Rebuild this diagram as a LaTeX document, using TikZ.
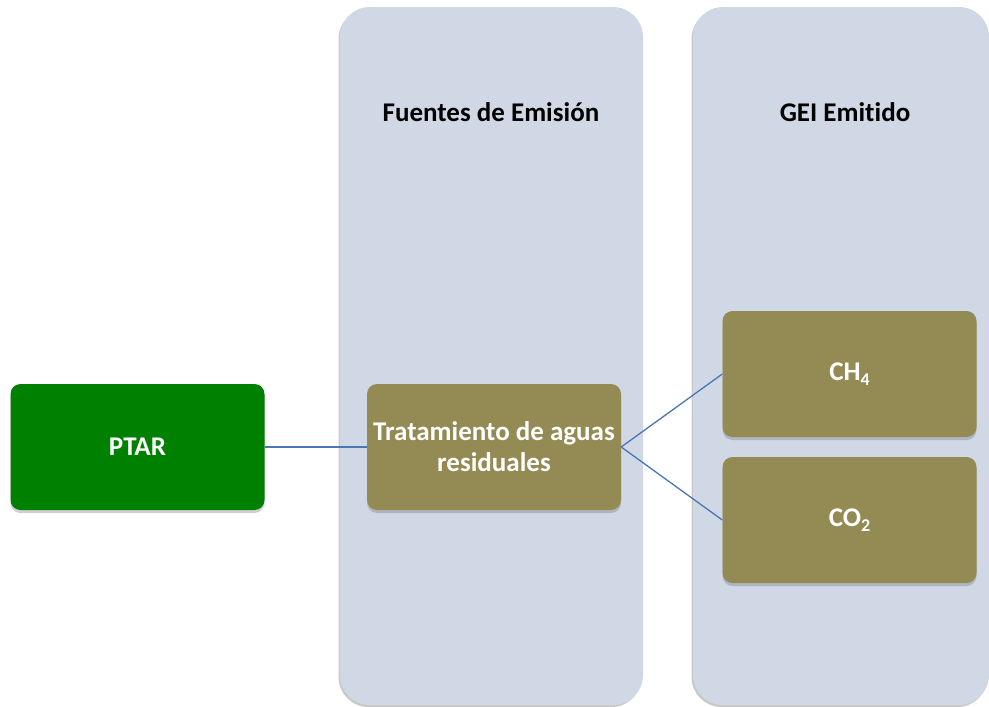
\documentclass[tikz,border=0pt]{standalone}
\usepackage{fontspec}
\setmainfont{Carlito}[Ligatures=NoCommon]
\usetikzlibrary{shadows}
\definecolor{colbg}{HTML}{D0D8E6}
\definecolor{ptargreen}{HTML}{008000}
\definecolor{olive}{HTML}{948A54}
\definecolor{linkblue}{HTML}{4A76B2}
\newcommand{\lowsub}[1]{\raisebox{-5pt}{\fontsize{18}{18}\selectfont #1}}
\tikzset{
  colbox/.style={fill=colbg, rounded corners=30pt, inner sep=0pt, anchor=center,
    drop shadow={shadow xshift=-1.5pt, shadow yshift=-2pt, opacity=0.35, fill=black!60}},
  stepbox/.style={rounded corners=10pt, inner sep=0pt, anchor=center,
    minimum width=254pt, minimum height=126pt, align=center,
    text=white, font=\fontsize{27}{31}\selectfont\bfseries,
    drop shadow={shadow xshift=0pt, shadow yshift=-3pt, opacity=0.3, fill=black!60}},
  headtext/.style={font=\fontsize{27}{28}\selectfont\bfseries, text=black, anchor=center},
  link/.style={draw=linkblue, line width=1.3pt}
}
\begin{document}
\begin{tikzpicture}[x=1pt,y=-1pt]
\useasboundingbox (0,0) rectangle (989,707);
\fill[white] (0,0) rectangle (989,707);
\node[colbox, minimum width=303pt, minimum height=698pt] (col1) at (491.5,356) {};
\node[colbox, minimum width=296pt, minimum height=698pt] (col2) at (841,356) {};
\node[headtext] (h1) at (491,112) {Fuentes de Emisión};
\node[headtext] (h2) at (845,112) {GEI Emitido};
\node[stepbox, fill=ptargreen] (ptar) at (137.5,447) {PTAR};
\node[stepbox, fill=olive] (trat) at (494,447) {Tratamiento de aguas\\residuales};
\node[stepbox, fill=olive] (ch4) at (849.5,374) {CH\lowsub{4}};
\node[stepbox, fill=olive] (co2) at (849.5,520) {CO\lowsub{2}};
\draw[link] (ptar.east) -- (trat.west);
\draw[link] (trat.east) -- (ch4.west);
\draw[link] (trat.east) -- (co2.west);
\end{tikzpicture}
\end{document}
